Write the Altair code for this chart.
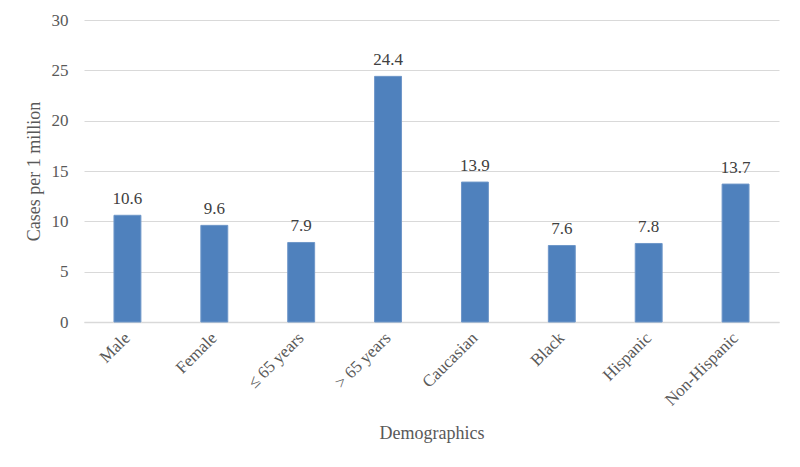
import altair as alt
import pandas as pd

categories = ["Male", "Female", "≤ 65 years", "> 65 years", "Caucasian", "Black", "Hispanic", "Non-Hispanic"]
values = [10.6, 9.6, 7.9, 24.4, 13.9, 7.6, 7.8, 13.7]

df = pd.DataFrame({"cat": categories, "val": values})

FONT = "Liberation Serif"
TXT = "#595959"

x = alt.X("cat:N", sort=categories,
          scale=alt.Scale(paddingInner=0.69, paddingOuter=0.345),
          axis=alt.Axis(title="Demographics", labelAngle=-45, labelAlign="right",
                        labelBaseline="middle", labelPadding=13, ticks=False,
                        domain=True, domainColor="#d9d9d9", domainWidth=1.5,
                        labelFont=FONT, labelFontSize=17, labelColor=TXT,
                        titleFont=FONT, titleFontSize=18, titleColor=TXT,
                        titleFontWeight="normal", titlePadding=16))
y = alt.Y("val:Q", scale=alt.Scale(domain=[0, 30]),
          axis=alt.Axis(title="Cases per 1 million", values=[0, 5, 10, 15, 20, 25, 30],
                        grid=True, gridColor="#d9d9d9", gridWidth=1,
                        domain=False, ticks=False, labelPadding=16,
                        labelFont=FONT, labelFontSize=17, labelColor=TXT,
                        titleFont=FONT, titleFontSize=18, titleColor=TXT,
                        titleFontWeight="normal", titlePadding=8))

bars = alt.Chart(df).mark_bar(color="#4F81BD", stroke="#6f97c9", strokeWidth=1).encode(x=x, y=y)
labels = alt.Chart(df).mark_text(baseline="bottom", dy=-7, font=FONT, fontSize=17, color="#404040").encode(
    x=alt.X("cat:N", sort=categories), y="val:Q", text=alt.Text("val:Q", format=".1f"))

chart = (bars + labels).properties(
    width=695, height=302,
    autosize=alt.AutoSizeParams(type="none"),
    padding={"left": 76, "top": 12, "right": 13, "bottom": 137},
).configure_view(stroke=None)

chart.save("out.html", embed_options={"renderer": "svg", "actions": False})
